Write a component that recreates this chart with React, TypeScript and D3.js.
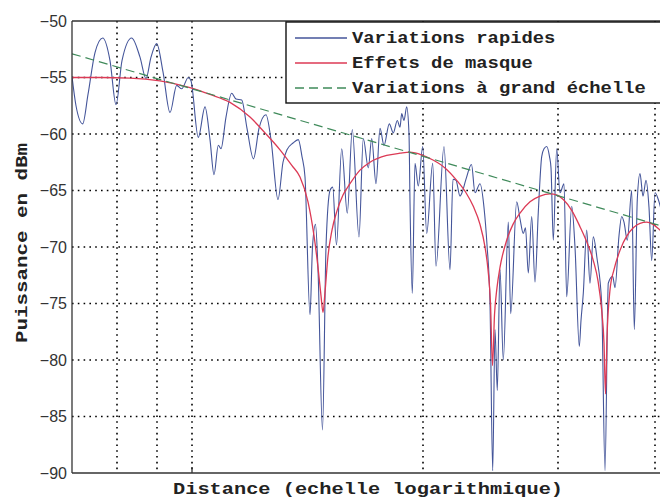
import React from "react";
import * as d3 from "d3";

// Distance index (log-distance axis, arbitrary units) and received power in dBm
const fastFading: [number, number][] = [
  [0,-54.9],[4,-57.5],[10.7,-59.1],[16,-56.5],[23,-52.8],[30.7,-51.5],[38,-53.5],[44,-57.4],[50,-53.5],[59.7,-51.5],
  [68,-53.2],[74,-55.1],[79,-53.2],[84.7,-52.0],[91,-54.5],[98,-58.1],[104.7,-55.7],[109.7,-56.0],[116.3,-55.0],[119,-55.3],
  [126.3,-60.3],[133,-57.6],[138,-60.5],[142,-63.6],[146.3,-61.0],[149,-61.3],[154,-58.5],[159.7,-56.4],[164,-56.9],[169.7,-57.0],
  [175,-59.5],[181.5,-62.2],[187,-59.5],[194,-58.3],[199,-60.5],[206,-65.8],[211,-62.5],[215,-61.4],[221,-60.8],[226.3,-60.5],
  [230,-62.0],[233,-63.8],[238,-76.0],[240.5,-70],[243.5,-68.0],[246,-72],[250.5,-86.2],[254,-70],[258,-65.0],[260.7,-64.7],
  [264.5,-69.8],[269.7,-61.3],[275.3,-67.0],[280.3,-59.6],[287,-69.1],[291.3,-60.4],[296.3,-63.0],[299.7,-60.4],[304,-64.4],[308,-59.5],
  [312,-61.0],[317.3,-59.1],[321.3,-59.9],[325.3,-58.8],[328,-59.4],[329.7,-58.2],[332,-58.8],[334.7,-57.6],[337,-60],[338,-66],
  [340.3,-74.1],[343,-62.6],[346.3,-64.6],[350.7,-61.1],[354.7,-68.8],[360.7,-62.6],[364,-71.7],[372,-61.1],[378,-72.0],[381,-64],
  [384,-64.1],[388,-65.5],[390,-65.2],[394,-64],[399.5,-62.7],[403,-65.2],[408,-64.4],[412,-66.5],[415,-69.8],[418,-75],
  [420.7,-89.8],[423,-77.3],[425.3,-82.7],[428,-72.0],[431.3,-80],[436.3,-67.8],[438.7,-75.9],[444.7,-66.0],[448,-67.5],[451.3,-68.8],
  [453.5,-68.3],[456.3,-72.3],[459.7,-67.3],[463,-73.1],[466.3,-66.9],[469.7,-62.0],[472,-61.3],[474.7,-61.1],[477.5,-62],[479,-63],
  [481.3,-69.4],[484.7,-61.3],[488,-65.2],[492,-64.4],[494.7,-74.4],[499.7,-66.4],[503,-70],[507.3,-78.8],[509,-76.5],[511.3,-74.1],
  [514.7,-68.5],[518,-73.2],[521.3,-69.1],[525,-71],[529.7,-75],[533,-89.8],[536.3,-73.2],[540.7,-72.6],[543,-73.6],[547,-69],
  [549.7,-67.3],[552,-67.8],[555.3,-69.4],[559.7,-65.0],[562.3,-77.3],[565.3,-65.8],[568,-63.5],[571,-65.5],[574,-64.1],[577,-66.5],
  [579.7,-71.2],[583,-65.2],[586.3,-65.8],[590,-67],
];

const shadowing: [number, number][] = [
  [0,-55.0],[28,-55.0],[58,-55.05],[88,-55.3],[118,-55.9],[138,-56.5],[158,-57.2],[178,-58.5],[193,-59.9],[208,-61.4],
  [220,-62.8],[228,-63.8],[236,-66.0],[242,-69.0],[246,-71.8],[249,-74.3],[251,-75.8],[253,-74.0],[256,-70.8],[260,-68.5],
  [265,-66.8],[271,-65.4],[278,-64.4],[288,-63.2],[298,-62.5],[314.7,-61.9],[328,-61.7],[338,-61.6],[348,-61.8],[361,-62.3],
  [373,-63.0],[384.7,-64.1],[394,-65.2],[401.3,-66.4],[408,-68.0],[413,-70],[416,-72],[418.5,-75],[420.5,-80.5],[422.5,-76],
  [425,-73.6],[428,-71.8],[434.7,-69.4],[441,-68.0],[448,-67.0],[458,-66.0],[468,-65.5],[478,-65.3],[485,-65.4],[491.3,-65.8],
  [500,-66.8],[508,-68.2],[515,-69.6],[521.3,-71.2],[526,-73.0],[529.7,-75.6],[532,-78.5],[533.5,-83.0],[535,-78],[538,-73.8],
  [542,-72.0],[548,-70.3],[555,-69.0],[561.3,-68.3],[568,-67.9],[574.7,-67.8],[581,-68.0],[588,-68.5],[592,-68.8],
];

const pathLoss: [number, number][] = [[0, -52.9], [592, -68.2]];

const yTicks = [-90, -85, -80, -75, -70, -65, -60, -55, -50];
const xGrid = [45, 85, 120, 351, 486, 583];

const legendItems = [
  { label: "Variations rapides", color: "#44559a", dash: "" },
  { label: "Effets de masque", color: "#dc3a55", dash: "" },
  { label: "Variations à grand échelle", color: "#3f8a5a", dash: "9,5" },
];

export default function App() {
  const left = 72, right = 664, top = 21, bottom = 473;
  const x = d3.scaleLinear().domain([0, 592]).range([left, right]);
  const y = d3.scaleLinear().domain([-90, -50]).range([bottom, top]);
  const line = d3
    .line<[number, number]>()
    .x((d) => x(d[0]))
    .y((d) => y(d[1]))
    .curve(d3.curveMonotoneX);
  const straight = d3
    .line<[number, number]>()
    .x((d) => x(d[0]))
    .y((d) => y(d[1]));

  const mono = "'Liberation Mono', 'Courier New', monospace";
  const charW = 11.3;

  return (
    <svg
      width={660}
      height={499}
      style={{ position: "absolute", left: 0, top: 0, background: "#fff" }}
    >
      <defs>
        <clipPath id="plot">
          <rect x={left} y={top} width={right - left} height={bottom - top} />
        </clipPath>
      </defs>
      {/* grid */}
      {yTicks
        .filter((t) => t > -90 && t < -50)
        .map((t) => (
          <line
            key={"gy" + t}
            x1={left}
            x2={right}
            y1={y(t)}
            y2={y(t)}
            stroke="#000"
            strokeWidth={1.6}
            strokeDasharray="1.6,4.2"
          />
        ))}
      {xGrid.map((g) => (
        <line
          key={"gx" + g}
          x1={x(g)}
          x2={x(g)}
          y1={top}
          y2={bottom}
          stroke="#000"
          strokeWidth={1.6}
          strokeDasharray="1.6,4.2"
        />
      ))}
      <g clipPath="url(#plot)">
        <path d={line(fastFading) ?? ""} fill="none" stroke="#44559a" strokeWidth={1.1} />
        <path d={line(shadowing) ?? ""} fill="none" stroke="#dc3a55" strokeWidth={1.3} />
        <path
          d={straight(pathLoss) ?? ""}
          fill="none"
          stroke="#3f8a5a"
          strokeWidth={1.2}
          strokeDasharray="9,5"
        />
      </g>
      {/* axes */}
      <line x1={left} x2={left} y1={top} y2={bottom} stroke="#333" strokeWidth={1.3} />
      <line x1={left} x2={right} y1={bottom} y2={bottom} stroke="#333" strokeWidth={1.3} />
      <line x1={left} x2={right} y1={top} y2={top} stroke="#333" strokeWidth={1.3} />
      <line x1={x(120)} x2={x(120)} y1={bottom} y2={bottom - 6} stroke="#333" strokeWidth={1.3} />
      {yTicks.map((t) => (
        <text
          key={"yt" + t}
          x={left - 5}
          y={y(t) + 5.5}
          textAnchor="end"
          fontFamily="'Liberation Sans', Arial, sans-serif"
          fontSize={16}
          fill="#333"
        >
          {"\u2212" + Math.abs(t)}
        </text>
      ))}
      <text
        x={368}
        y={494}
        textAnchor="middle"
        fontFamily={mono}
        fontWeight="bold"
        fontSize={17}
        fill="#222"
        textLength={390}
        lengthAdjust="spacingAndGlyphs"
      >
        Distance (echelle logarithmique)
      </text>
      <text
        transform="translate(27,243) rotate(-90)"
        textAnchor="middle"
        fontFamily={mono}
        fontWeight="bold"
        fontSize={16}
        fill="#222"
        textLength={200}
        lengthAdjust="spacingAndGlyphs"
      >
        Puissance en dBm
      </text>
      {/* legend */}
      <rect x={286} y={22} width={400} height={81} fill="#fff" stroke="#111" strokeWidth={1.4} />
      {legendItems.map((it, i) => {
        const ly = 38 + i * 25;
        return (
          <g key={it.label}>
            <line
              x1={295}
              x2={347}
              y1={ly}
              y2={ly}
              stroke={it.color}
              strokeWidth={1.3}
              strokeDasharray={it.dash || undefined}
            />
            <text
              x={352}
              y={ly + 5}
              fontFamily={mono}
              fontWeight="bold"
              fontSize={17}
              fill="#222"
              textLength={it.label.length * charW}
              lengthAdjust="spacingAndGlyphs"
            >
              {it.label}
            </text>
          </g>
        );
      })}
    </svg>
  );
}
